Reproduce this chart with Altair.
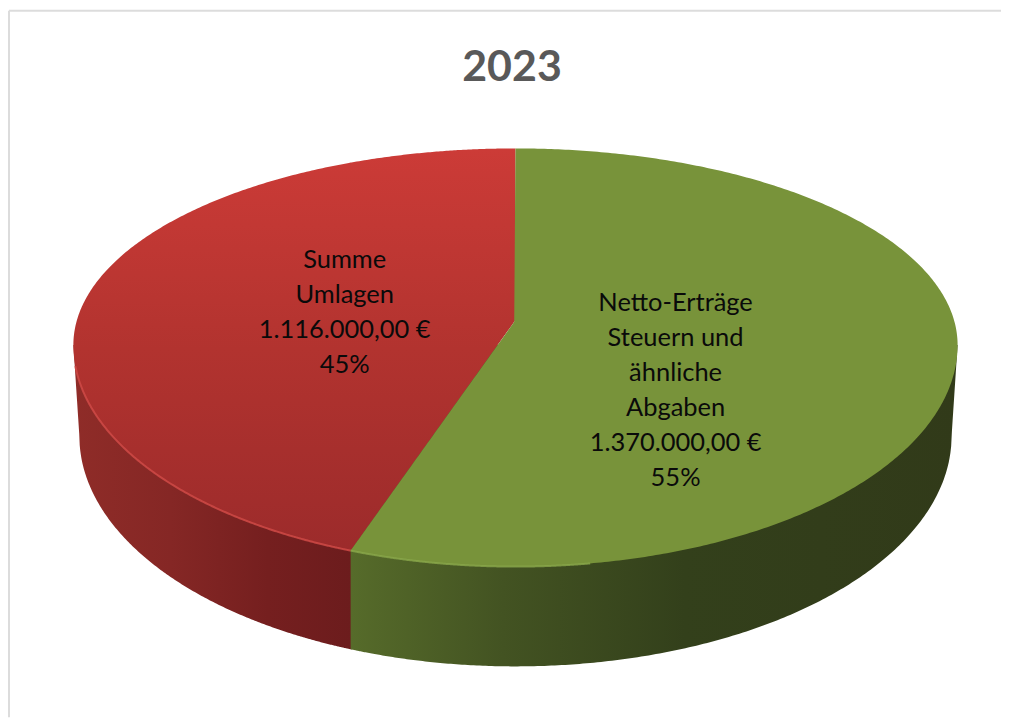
import numpy as np
import pandas as pd
import altair as alt

TITLE = "2023"
categories = ["Netto-Erträge Steuern und ähnliche Abgaben", "Summe Umlagen"]
values = [1370000, 1116000]
label_heads = [["Netto-Erträge", "Steuern und", "ähnliche", "Abgaben"], ["Summe", "Umlagen"]]

# Layout of the tilted disc, in the units of the x/y scales
CX, CY = 515.5, 345
RX = 443
RY_BACK, RY_FRONT = 197, 222
APEX_Y = 320
WALL_RX, WALL_CY, WALL_RY = 437, 436, 231
PERSPECTIVE_DEG = 3.5
W, H = 994, 710

share = values[0] / sum(values)
theta = 2 * np.pi * share + np.radians(PERSPECTIVE_DEG)
split_x = CX + RX * np.sin(theta)


def back(x):
    return CY - RY_BACK * np.sqrt(np.clip(1 - ((x - CX) / RX) ** 2, 0, 1))


def front(x):
    return CY + RY_FRONT * np.sqrt(np.clip(1 - ((x - CX) / RX) ** 2, 0, 1))


split_y = float(front(split_x))


def spoke(x):
    return APEX_Y + (CX - x) / (CX - split_x) * (split_y - APEX_Y)


def wall_bottom(x):
    d = np.abs(x - CX)
    inner = WALL_CY + WALL_RY * np.sqrt(np.clip(1 - (d / WALL_RX) ** 2, 0, 1))
    outer = CY + (RX - d) / (RX - WALL_RX) * (WALL_CY - CY)
    return np.where(d <= WALL_RX, inner, outer)


def xs(a, b, extra=()):
    t = (1 - np.cos(np.linspace(0, np.pi, 260))) / 2
    return np.unique(np.concatenate([a + (b - a) * t, list(extra)]))


# slices on the top face
rx_left, rx_right = CX - RX, CX + RX
x_red = xs(rx_left, CX, [split_x])
red_face = pd.DataFrame({"x": x_red, "y": back(x_red),
                         "y2": np.where(x_red <= split_x, front(x_red), spoke(x_red))})
x_green = xs(split_x, rx_right, [CX])
green_face = pd.DataFrame({"x": x_green, "y": np.where(x_green < CX, spoke(x_green), back(x_green)),
                           "y2": front(x_green)})

# outer walls
x_rw = xs(rx_left, split_x + 1)
red_wall = pd.DataFrame({"x": x_rw, "y": np.minimum(CY, front(x_rw)), "y2": wall_bottom(x_rw)})
x_gw = xs(split_x, rx_right)
green_wall = pd.DataFrame({"x": x_gw, "y": np.minimum(CY, front(x_gw)), "y2": wall_bottom(x_gw)})

# bevel on the rim
x_rr = xs(rx_left + 2, split_x)
red_rim = pd.DataFrame({"x": x_rr, "y": front(x_rr)})
x_gr = xs(split_x, split_x + 240)
green_rim = pd.DataFrame({"x": x_gr, "y": front(x_gr)})


def centroid(df):
    w = (df.y2 - df.y).to_numpy()
    area = np.trapezoid(w, df.x)
    return (np.trapezoid(w * df.x, df.x) / area,
            np.trapezoid((df.y2 ** 2 - df.y ** 2) / 2, df.x) / area)


def money(v):
    return f"{v:,.2f}".replace(",", "#").replace(".", ",").replace("#", ".") + " €"


rows = []
for face, head, v, nudge in zip([green_face, red_face], label_heads, values, [(3, -68), (39, -75)]):
    cx, cy = centroid(face)
    lines = head + [money(v), f"{round(v / sum(values) * 100)}%"]
    rows.append({"x": cx + nudge[0], "y": cy + nudge[1], "label": "\n".join(lines)})
labels = pd.DataFrame(rows)

X = alt.X("x:Q", scale=alt.Scale(domain=[8, 8 + W], zero=False, nice=False), axis=None)
Y = alt.Y("y:Q", scale=alt.Scale(domain=[8 + H, 8], zero=False, nice=False), axis=None)


def grad(stops, horizontal=True):
    return alt.Gradient(gradient="linear",
                        stops=[alt.GradientStop(color=c, offset=o) for o, c in stops],
                        x1=0, y1=0, x2=1 if horizontal else 0, y2=0 if horizontal else 1)


def area(df, fill):
    return alt.Chart(df).mark_area(color=fill, interpolate="linear").encode(x=X, y=Y, y2="y2:Q")


red_wall_l = area(red_wall, grad([(0, "#8f2c28"), (0.35, "#852725"), (0.7, "#751f1f"), (1, "#6c1c1d")]))
green_wall_l = area(green_wall, grad([(0, "#566b2a"), (0.25, "#435322"), (0.55, "#33401b"), (1, "#313a19")]))
red_face_l = area(red_face, grad([(0, "#cc3b37"), (0.5, "#b2332f"), (1, "#9c2b2b")], horizontal=False))
green_face_l = area(green_face, "#78933a")
red_rim_l = alt.Chart(red_rim).mark_line(color="#cf4a47", strokeWidth=2, opacity=0.85).encode(x=X, y=Y)
green_rim_l = alt.Chart(green_rim).mark_line(color="#8aa84b", strokeWidth=2, opacity=0.8).encode(x=X, y=Y)

text_l = alt.Chart(labels).mark_text(font="Lato", fontSize=25.5, color="#0a0a0a", lineBreak="\n",
                                     lineHeight=35, align="center", baseline="middle").encode(
    x=X, y=Y, text="label:N")

title_l = alt.Chart(pd.DataFrame({"t": [TITLE]})).mark_text(
    font="Lato", fontSize=43, fontWeight="bold", color="#595959", align="center", baseline="middle"
).encode(x=alt.value(504), y=alt.value(59), text="t:N")

border_top = alt.Chart(pd.DataFrame({"a": [0]})).mark_rule(color="#dcdcdc", strokeWidth=2).encode(
    x=alt.value(0), x2=alt.value(W), y=alt.value(2))
border_left = alt.Chart(pd.DataFrame({"a": [0]})).mark_rule(color="#dcdcdc", strokeWidth=2).encode(
    x=alt.value(0), y=alt.value(2), y2=alt.value(H))

chart = alt.layer(
    border_top, border_left, title_l,
    red_wall_l, green_wall_l, red_face_l, green_face_l, red_rim_l, green_rim_l, text_l,
).properties(width=W, height=H, padding=0, background="#ffffff").configure_view(strokeWidth=0)

chart.save("out.html", embed_options={"renderer": "svg", "actions": False})
